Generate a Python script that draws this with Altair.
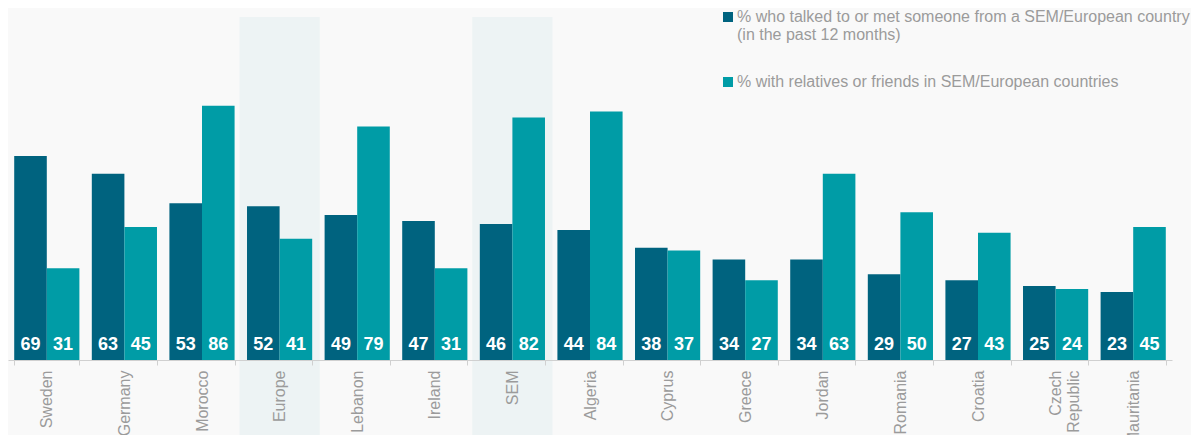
import altair as alt
import pandas as pd

countries = ["Sweden", "Germany", "Morocco", "Europe", "Lebanon", "Ireland", "SEM",
             "Algeria", "Cyprus", "Greece", "Jordan", "Romania", "Croatia",
             "Czech Republic", "Mauritania"]
talked = [69, 63, 53, 52, 49, 47, 46, 44, 38, 34, 34, 29, 27, 25, 23]
relatives = [31, 45, 86, 41, 79, 31, 82, 84, 37, 27, 63, 50, 43, 24, 45]
highlighted = ["Europe", "SEM"]
series_names = [
    "% who talked to or met someone from a SEM/European country (in the past 12 months)",
    "% with relatives or friends in SEM/European countries",
]
colors = ["#00637f", "#009ca6"]

rows = []
for c, a, b in zip(countries, talked, relatives):
    rows.append({"country": c, "series": series_names[0], "value": a})
    rows.append({"country": c, "series": series_names[1], "value": b})
df = pd.DataFrame(rows)
hl = pd.DataFrame({"country": highlighted})

W, H = 1164, 343
FONT = "Liberation Sans"
GREY = "#9b9b9b"

xscale = alt.Scale(paddingInner=0.16, paddingOuter=0.08)
x_axis = alt.Axis(
    title=None, labelAngle=-90, labelFontSize=16, labelColor=GREY, labelFont=FONT,
    labelPadding=5, tickBand="extent", tickSize=5, tickColor="#d0d0d0",
    domainColor="#d0d0d0", zindex=1,
    labelExpr="datum.label == 'Czech Republic' ? ['Czech', 'Republic'] : datum.label",
)

bands = alt.Chart(hl).mark_bar(color="#edf3f4", width=alt.RelativeBandSize(1.23)).encode(
    x=alt.X("country:N", sort=countries, scale=xscale, axis=x_axis),
    y=alt.value(0),
    y2=alt.value(423),
)

legend = alt.Legend(
    title=None, orient="none", legendX=712, legendY=-8, symbolType="square",
    symbolSize=100, symbolStrokeWidth=0, labelFontSize=16, labelColor=GREY,
    labelFont=FONT, labelLimit=700, labelOffset=1, rowPadding=31, padding=0,
    labelExpr="indexof(datum.label, ' (in') > 0 ? [slice(datum.label, 0, indexof(datum.label, ' (in')), slice(datum.label, indexof(datum.label, '(in'))] : datum.label",
)

bars = alt.Chart(df).mark_bar().encode(
    x=alt.X("country:N", sort=countries, scale=xscale, axis=x_axis),
    xOffset=alt.XOffset("series:N", sort=series_names),
    y=alt.Y("value:Q", scale=alt.Scale(domain=[0, 116], nice=False), axis=None),
    color=alt.Color("series:N", sort=series_names,
                    scale=alt.Scale(domain=series_names, range=colors), legend=legend),
)

labels = alt.Chart(df).mark_text(
    color="white", fontWeight="bold", fontSize=18, font=FONT, baseline="alphabetic", dy=-10
).encode(
    x=alt.X("country:N", sort=countries, scale=xscale, axis=x_axis),
    xOffset=alt.XOffset("series:N", sort=series_names),
    y=alt.datum(0),
    text=alt.Text("value:Q"),
)

chart = alt.layer(bands, bars, labels).properties(
    width=W, height=H,
    autosize=alt.AutoSizeParams(type="none"),
    padding={"left": 0, "top": 9, "right": 19, "bottom": 75},
).configure(background="#f9f9f9").configure_view(stroke=None)

chart.save("out.html", embed_options={"renderer": "svg", "actions": False})
